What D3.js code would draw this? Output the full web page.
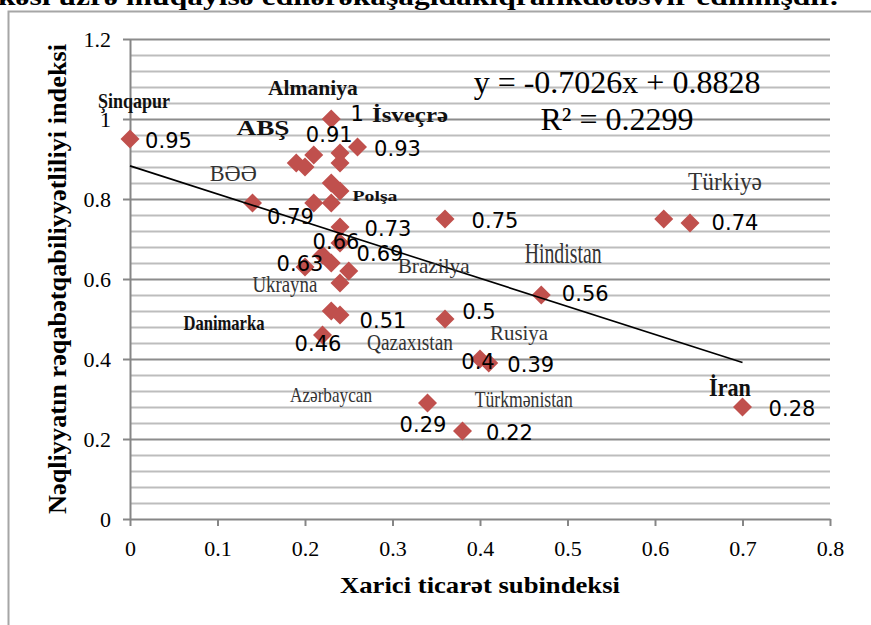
<!DOCTYPE html>
<html>
<head>
<meta charset="utf-8">
<script src="https://cdn.jsdelivr.net/npm/d3@7"></script>
<style>
  body { margin: 0; background: #fff; }
  svg { display: block; }
</style>
</head>
<body>
<svg id="chart" width="871" height="625"></svg>
<script>
// ---- data -------------------------------------------------------------
// Xarici ticarət subindeksi (x) vs. nəqliyyatın rəqabətqabiliyyətliliyi indeksi (y)
const xValues = [
  0.00, 0.23, 0.26, 0.21, 0.19, 0.20, 0.24, 0.24, 0.23, 0.24, 0.23,
  0.21, 0.14, 0.24, 0.24, 0.22, 0.20, 0.23, 0.25, 0.24, 0.23, 0.24,
  0.22, 0.36, 0.40, 0.41, 0.34, 0.38, 0.36, 0.61, 0.64, 0.47, 0.70
];
const yValues = [
  0.95, 1.00, 0.93, 0.91, 0.89, 0.88, 0.915, 0.89, 0.84, 0.82, 0.79,
  0.79, 0.79, 0.73, 0.69, 0.66, 0.63, 0.64, 0.62, 0.59, 0.52, 0.51,
  0.46, 0.50, 0.40, 0.39, 0.29, 0.22, 0.75, 0.75, 0.74, 0.56, 0.28
];
// whether the point carries a value label
const hasValueLabel = [
  true, true, true, true, false, false, false, false, false, false, false,
  false, true, true, true, true, true, false, false, false, false, true,
  true, true, true, true, true, true, true, false, true, true, true
];

// linear trend: y = a·x + b
const trendSlope = -0.7026;
const trendIntercept = 0.8828;
const trendR2 = 0.2299;
const trendRange = [0, 0.70];

// country names
const countryNames = [
  "Şinqapur", "Almaniya", "İsveçrə", "ABŞ", "BƏƏ", "Polşa", "Brazilya",
  "Ukrayna", "Danimarka", "Qazaxıstan", "Rusiya", "Azərbaycan",
  "Türkmənistan", "Hindistan", "Türkiyə", "İran"
];

const xTicks = [0, 0.1, 0.2, 0.3, 0.4, 0.5, 0.6, 0.7, 0.8];
const xTickLabels = ["0", "0.1", "0.2", "0.3", "0.4", "0.5", "0.6", "0.7", "0.8"];
const yTicks = [0, 0.2, 0.4, 0.6, 0.8, 1.0, 1.2];
const yTickLabels = ["0", "0.2", "0.4", "0.6", "0.8", "1", "1.2"];

const xTitle = "Xarici ticarət subindeksi";
const yTitle = "Nəqliyyatın rəqabətqabiliyyətliliyi indeksi";
const headerLine = "kəsi üzrə müqayisə edilərəkaşağıdakıqrafikdətəsvir edilmişdir.";

// ---- layout -------------------------------------------------------------
const svg = d3.select("#chart");
const plot = { left: 130, right: 830, top: 39, bottom: 519 };
const x = d3.scaleLinear().domain([0, 0.8]).range([plot.left, plot.right]);
const y = d3.scaleLinear().domain([0, 1.2]).range([plot.bottom, plot.top]);

const serif = "'Liberation Serif', 'Times New Roman', serif";
const sans = "'DejaVu Sans', Verdana, sans-serif";
const markerColor = "#c0504d";

// page fragment above the figure and the figure frame
svg.append("text")
  .attr("x", -2).attr("y", 5)
  .attr("font-family", serif).attr("font-size", 25).attr("font-weight", "bold")
  .attr("textLength", 840).attr("lengthAdjust", "spacingAndGlyphs")
  .text(headerLine);

svg.append("rect")
  .attr("x", 8.5).attr("y", 11.5).attr("width", 900).attr("height", 700)
  .attr("fill", "none").attr("stroke", "#a6a6a6").attr("stroke-width", 2);

// horizontal gridlines every 0.04, darker at every 0.2
const gridSteps = d3.range(1, 31);
svg.append("g").selectAll("line")
  .data(gridSteps)
  .join("line")
  .attr("x1", plot.left).attr("x2", plot.right)
  .attr("y1", i => Math.round(y(i * 0.04)) + 0.5)
  .attr("y2", i => Math.round(y(i * 0.04)) + 0.5)
  .attr("stroke", i => i % 5 === 0 ? "#8c8c8c" : "#bdbdbd")
  .attr("stroke-width", 2);

// axes
const xAxis = d3.axisBottom(x)
  .tickValues(xTicks)
  .tickFormat((d, i) => xTickLabels[i])
  .tickSize(7).tickSizeOuter(0).tickPadding(14);
const yAxis = d3.axisLeft(y)
  .tickValues(yTicks)
  .tickFormat((d, i) => yTickLabels[i])
  .tickSize(7).tickSizeOuter(0).tickPadding(12);

const gx = svg.append("g")
  .attr("transform", `translate(0,${plot.bottom})`)
  .call(xAxis);
const gy = svg.append("g")
  .attr("transform", `translate(${plot.left},0)`)
  .call(yAxis);
[gx, gy].forEach(g => {
  g.selectAll("path, line").attr("stroke", "#868686").attr("stroke-width", 2);
  g.selectAll("text")
    .attr("font-family", serif).attr("font-size", 22).attr("fill", "#000");
});

// axis titles
svg.append("text")
  .attr("x", (plot.left + plot.right) / 2).attr("y", 593)
  .attr("text-anchor", "middle")
  .attr("font-family", serif).attr("font-size", 24).attr("font-weight", "bold")
  .attr("textLength", 280).attr("lengthAdjust", "spacingAndGlyphs")
  .text(xTitle);

svg.append("text")
  .attr("transform", `translate(66,${(plot.top + plot.bottom) / 2}) rotate(-90)`)
  .attr("text-anchor", "middle")
  .attr("font-family", serif).attr("font-size", 25).attr("font-weight", "bold")
  .attr("textLength", 470).attr("lengthAdjust", "spacingAndGlyphs")
  .text(yTitle);

// points
const points = xValues.map((xv, i) => ({ x: xv, y: yValues[i], labelled: hasValueLabel[i], i }));
const r = 9.5;
svg.append("g").selectAll("path")
  .data(points)
  .join("path")
  .attr("transform", d => `translate(${x(d.x)},${y(d.y)})`)
  .attr("d", `M0,${-r}L${r},0L0,${r}L${-r},0Z`)
  .attr("fill", markerColor);

// trend line
const trendLine = d3.line().x(d => x(d)).y(d => y(trendSlope * d + trendIntercept));
svg.append("path")
  .attr("d", trendLine(trendRange))
  .attr("fill", "none").attr("stroke", "#000").attr("stroke-width", 1.6);

// trend equation (plain hyphen for the sign, as Excel writes it)
svg.append("text")
  .attr("x", 617).attr("y", 93).attr("text-anchor", "middle")
  .attr("font-family", serif).attr("font-size", 32)
  .text(`y = ${trendSlope.toFixed(4)}x + ${trendIntercept.toFixed(4)}`);
svg.append("text")
  .attr("x", 617).attr("y", 130).attr("text-anchor", "middle")
  .attr("font-family", serif).attr("font-size", 32)
  .text(`R² = ${trendR2.toFixed(4)}`);

// value labels, nudged off their markers (pixel offsets of label centre)
const labelNudge = {
  0: [38.5, 1], 1: [26, -5.5], 2: [40, 1.5], 3: [15.5, -20.5], 12: [38, 13],
  13: [48, 1], 14: [40, 10], 15: [13.5, -14], 16: [-5, -4], 21: [43, 5],
  22: [-4.5, 8], 23: [34, -8], 24: [-2, 2], 25: [42, 1], 26: [-4.5, 21],
  27: [47, 1], 28: [50, 1], 30: [45, -1], 31: [44, -2], 32: [49.5, 1]
};
const fmtValue = d3.format("~g");
svg.append("g").selectAll("text")
  .data(points.filter(d => d.labelled))
  .join("text")
  .attr("x", d => x(d.x) + labelNudge[d.i][0])
  .attr("y", d => y(d.y) + labelNudge[d.i][1] + 7.6)
  .attr("text-anchor", "middle")
  .attr("font-family", sans).attr("font-size", 21).attr("fill", "#000")
  .text(d => fmtValue(d.y));

// country annotations (placed in data units; width in px, bold flag, size)
const countryPlacement = [
  { at: [0.0046, 1.0275], w: 72, bold: true, size: 21 },
  { at: [0.209, 1.06], w: 90, bold: true, size: 22 },
  { at: [0.32, 0.9925], w: 76, bold: true, size: 22 },
  { at: [0.152, 0.96], w: 53, bold: true, size: 20 },
  { at: [0.118, 0.845], w: 47, bold: false, size: 23 },
  { at: [0.28, 0.795], w: 45, bold: true, size: 15 },
  { at: [0.347, 0.615], w: 72, bold: false, size: 22 },
  { at: [0.177, 0.5675], w: 65, bold: false, size: 23 },
  { at: [0.1074, 0.4725], w: 81, bold: true, size: 22 },
  { at: [0.32, 0.4225], w: 86, bold: false, size: 24 },
  { at: [0.4446, 0.4475], w: 58, bold: false, size: 22 },
  { at: [0.2297, 0.2925], w: 82, bold: false, size: 21 },
  { at: [0.45, 0.28], w: 98, bold: false, size: 23 },
  { at: [0.495, 0.64], w: 77, bold: false, size: 30 },
  { at: [0.68, 0.8225], w: 74, bold: false, size: 25 },
  { at: [0.6857, 0.3075], w: 42, bold: true, size: 26 }
];
svg.append("g").selectAll("text")
  .data(countryNames.map((name, i) => ({ name, ...countryPlacement[i] })))
  .join("text")
  .attr("x", d => x(d.at[0]))
  .attr("y", d => y(d.at[1]))
  .attr("text-anchor", "middle")
  .attr("font-family", serif)
  .attr("font-size", d => d.size)
  .attr("font-weight", d => d.bold ? "bold" : "normal")
  .attr("fill", d => d.bold ? "#111" : "#333")
  .attr("textLength", d => d.w).attr("lengthAdjust", "spacingAndGlyphs")
  .text(d => d.name);
</script>
</body>
</html>
